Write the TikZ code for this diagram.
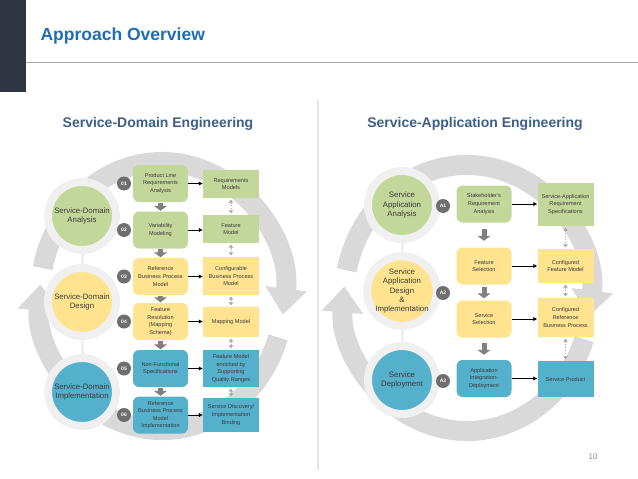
\documentclass[tikz,border=0pt]{standalone}
\usepackage{fontspec}
\setmainfont{Liberation Sans}
\usetikzlibrary{arrows.meta}
\definecolor{ringgray}{HTML}{D9D9D9}
\definecolor{halogray}{HTML}{F0F0F0}
\definecolor{phgreen}{HTML}{C4D79B}
\definecolor{phyellow}{HTML}{FFE38F}
\definecolor{phblue}{HTML}{55B0CC}
\definecolor{badgegray}{HTML}{6E6E6E}
\definecolor{arrgray}{HTML}{808080}
\definecolor{dotgray}{HTML}{A6A6A6}
\definecolor{titleblue}{HTML}{1F6DB5}
\definecolor{subblue}{HTML}{3F5E86}
\definecolor{slate}{HTML}{2F3641}
\definecolor{txtgray}{HTML}{3A3A3A}
\tikzset{
  >=latex,
  ring/.style={line width=20pt, draw=ringgray, -{Triangle[length=26pt,width=40pt]}},
  phase/.style={circle, draw=halogray, line width=8pt, minimum size=68pt, inner sep=0pt,
    align=center, text=txtgray, font=\fontsize{7.8}{9.4}\selectfont},
  link/.style={draw=halogray, line width=3pt},
  procbox/.style={rounded corners=6pt, minimum width=55pt, minimum height=37pt, inner sep=1pt,
    align=center, text=txtgray, font=\fontsize{5.6}{7.6}\selectfont},
  artbox/.style={minimum width=56pt, inner sep=1pt, align=center, text=txtgray,
    font=\fontsize{5.6}{7.6}\selectfont},
  badge/.style={circle, fill=badgegray, minimum size=14pt, inner sep=0pt, text=white,
    font=\fontsize{5}{5}\selectfont\bfseries},
  subtitle/.style={text=subblue, font=\fontsize{14}{16}\selectfont\bfseries},
  flow/.style={draw=black, line width=0.9pt, -{Latex[length=4pt,width=4.5pt]}},
  dnarrow/.style={draw=arrgray, line width=5pt, -{Triangle[length=5pt,width=13pt]},
    shorten <=#1, shorten >=#1},
  twoway/.style={draw=dotgray, line width=0.8pt, dotted,
    {Triangle[length=3pt,width=4.5pt]}-{Triangle[length=3pt,width=4.5pt]}, shorten <=1.5pt, shorten >=1.5pt},
}
\begin{document}
\begin{tikzpicture}[x=1pt,y=-1pt]
  \useasboundingbox (0,0) rectangle (638,479);
  \fill[slate] (0,0) rectangle (26,92);
  \draw[black!35, line width=1pt] (26,62) -- (638,62);
  \node[anchor=base west, text=titleblue, font=\fontsize{17.5}{20}\selectfont\bfseries] (title) at (37,40) {Approach Overview};
  \draw[black!10, line width=1.5pt] (318,100) -- (318,470);
  \node[subtitle] (domtitle) at (158,124) {Service-Domain Engineering};
  \node[subtitle] (apptitle) at (475,124) {Service-Application Engineering};

  \begin{scope}[ring]
    \draw (162,296) ++(192:122 and 134) arc[start angle=192, end angle=368, x radius=122, y radius=134];
    \draw (162,296) ++(18:122 and 134) arc[start angle=18, end angle=185, x radius=122, y radius=134];
    \draw (467,298) ++(192:123 and 133) arc[start angle=192, end angle=368, x radius=123, y radius=133];
    \draw (467,298) ++(18:123 and 133) arc[start angle=18, end angle=185, x radius=123, y radius=133];
  \end{scope}

  % service-domain engineering
  \node[phase, fill=phgreen] (sda) at (82,216) {Service-Domain\\Analysis};
  \node[phase, fill=phyellow] (sdd) at (82,302) {Service-Domain\\Design};
  \node[phase, fill=phblue] (sdi) at (82,392) {Service-Domain\\Implementation};
  \draw[link] (sda) -- (sdd);
  \draw[link] (sdd) -- (sdi);

  \node[procbox, fill=phgreen] (d1) at (160.5,183.5) {Product Line\\Requirements\\Analysis};
  \node[procbox, fill=phgreen] (d2) at (160.5,230) {Variability\\Modeling};
  \node[procbox, fill=phyellow] (d3) at (160.5,276.5) {Reference\\Business Process\\Model};
  \node[procbox, fill=phyellow] (d4) at (160.5,321.5) {Feature\\Resolution\\(Mapping\\Schema)};
  \node[procbox, fill=phblue] (d5) at (160.5,368.5) {Non-Functional\\Specifications};
  \node[procbox, fill=phblue] (d6) at (160.5,415) {Reference\\Business Process\\Model\\Implementation};

  \node[badge] (n1) at (124,183.5) {01};
  \node[badge] (n2) at (124,230) {02};
  \node[badge] (n3) at (124,276.5) {03};
  \node[badge] (n4) at (124,321.5) {04};
  \node[badge] (n5) at (124,368.5) {05};
  \node[badge] (n6) at (124,415) {06};

  \node[artbox, fill=phgreen, minimum height=28pt] (m1) at (231,184) {Requirements\\Models};
  \node[artbox, fill=phgreen, minimum height=28pt] (m2) at (231,229) {Feature\\Model};
  \node[artbox, fill=phyellow, minimum height=38pt] (m3) at (231,276) {Configurable\\Business Process\\Model};
  \node[artbox, fill=phyellow, minimum height=30pt] (m4) at (231,322) {Mapping Model};
  \node[artbox, fill=phblue, minimum height=37pt] (m5) at (231,368.5) {Feature Model\\enriched by\\Supporting\\Quality Ranges};
  \node[artbox, fill=phblue, minimum height=34pt] (m6) at (231,415) {Service Discovery/\\Implementation\\Binding};

  \draw[dnarrow=0.5pt] (d1.south) -- (d2.north);
  \draw[dnarrow=0.5pt] (d2.south) -- (d3.north);
  \draw[dnarrow=0.5pt] (d3.south) -- (d4.north);
  \draw[dnarrow=0.5pt] (d4.south) -- (d5.north);
  \draw[dnarrow=0.5pt] (d5.south) -- (d6.north);

  \draw[flow] (d1.east) -- (d1.east -| m1.west);
  \draw[flow] (d2.east) -- (d2.east -| m2.west);
  \draw[flow] (d3.east) -- (d3.east -| m3.west);
  \draw[flow] (d4.east) -- (d4.east -| m4.west);
  \draw[flow] (d5.east) -- (d5.east -| m5.west);
  \draw[flow] (d6.east) -- (d6.east -| m6.west);

  \draw[twoway] (m1) -- (m2);
  \draw[twoway] (m2) -- (m3);
  \draw[twoway] (m3) -- (m4);
  \draw[twoway] (m4) -- (m5);
  \draw[twoway] (m5) -- (m6);

  % service-application engineering
  \begin{scope}[every node/.append style={font=\fontsize{7.4}{8.4}\selectfont}]
    \node[phase, fill=phgreen] (saa) at (402,205) {Service\\Application\\Analysis};
    \node[phase, fill=phyellow] (sad) at (402,291) {Service\\Application\\Design\\\&\\Implementation};
    \node[phase, fill=phblue] (sdp) at (402,380) {Service\\Deployment};
  \end{scope}
  \draw[link] (saa) -- (sad);
  \draw[link] (sad) -- (sdp);

  \begin{scope}[every node/.append style={minimum width=62pt, minimum height=40pt, font=\fontsize{6}{7.6}\selectfont}]
    \node[procbox, fill=phgreen] (s1) at (484,204) {Stakeholder's\\Requirement\\Analysis};
    \node[procbox, fill=phyellow] (s2) at (484,266) {Feature\\Selection};
    \node[procbox, fill=phyellow] (s3) at (484,319) {Service\\Selection};
    \node[procbox, fill=phblue] (s4) at (484,378.5) {Application\\Integration-\\Deployment};
  \end{scope}

  \node[badge] (a1) at (443,206) {A1};
  \node[badge] (a2) at (443,293) {A2};
  \node[badge] (a3) at (443,381) {A3};

  \begin{scope}[every node/.append style={minimum width=65pt, font=\fontsize{6}{7.6}\selectfont}]
    \node[artbox, fill=phgreen, minimum height=43pt] (r1) at (565.5,204.5) {Service-Application\\Requirement\\Specifications};
    \node[artbox, fill=phyellow, minimum height=34pt] (r2) at (565.5,266) {Configured\\Feature Model};
    \node[artbox, fill=phyellow, minimum height=39pt] (r3) at (565.5,317.5) {Configured\\Reference\\Business Process};
    \node[artbox, fill=phblue, minimum height=36pt] (r4) at (565.5,379) {Service Product};
  \end{scope}

  \draw[dnarrow=6.5pt] (s1.south) -- (s2.north);
  \draw[dnarrow=2pt] (s2.south) -- (s3.north);
  \draw[dnarrow=5pt] (s3.south) -- (s4.north);

  \draw[flow] (s1.east) -- (s1.east -| r1.west);
  \draw[flow] (s2.east) -- (s2.east -| r2.west);
  \draw[flow] (s3.east) -- (s3.east -| r3.west);
  \draw[flow] (s4.east) -- (s4.east -| r4.west);

  \draw[twoway] (r1) -- (r2);
  \draw[twoway] (r2) -- (r3);
  \draw[twoway] (r3) -- (r4);

  \node[text=black!45, font=\fontsize{8}{9}\selectfont] (page) at (593,457) {10};
\end{tikzpicture}
\end{document}
